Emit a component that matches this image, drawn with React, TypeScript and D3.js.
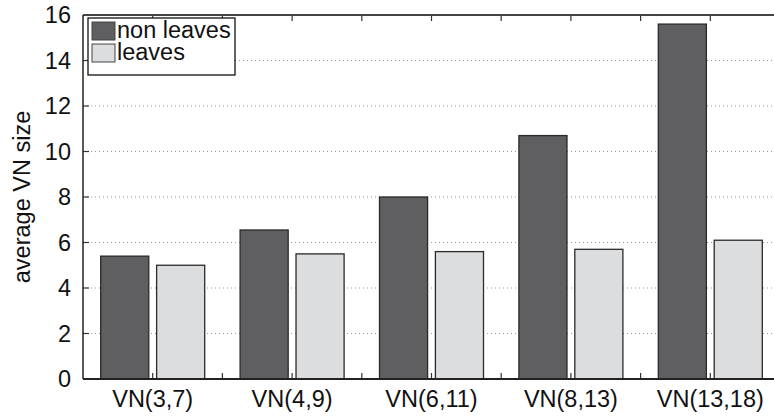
import React from "react";
import * as d3 from "d3";

const categories = ["VN(3,7)", "VN(4,9)", "VN(6,11)", "VN(8,13)", "VN(13,18)"];
const seriesNames = ["non leaves", "leaves"];
const nonLeaves = [5.4, 6.55, 8.0, 10.7, 15.6];
const leaves = [5.0, 5.5, 5.6, 5.7, 6.1];
const yTicks = [0, 2, 4, 6, 8, 10, 12, 14, 16];
const seriesColors = ["#5f5f61", "#dcdddf"];

const W = 774;
const H = 417;
const left = 83;
const top = 15;
const bottom = 379;
const groupStep = 139.4;
const FONT = "'Liberation Sans', Arial, Helvetica, sans-serif";
const FS = 23.5;

export default function App() {
  const x = d3
    .scaleBand<string>()
    .domain(categories)
    .range([left, left + groupStep * categories.length])
    .padding(0);
  const sub = d3
    .scaleBand<string>()
    .domain(seriesNames)
    .range([17.7, 121.7])
    .paddingInner(0.14)
    .paddingOuter(0);
  const y = d3.scaleLinear().domain([0, 16]).range([bottom, top]);

  const values = [nonLeaves, leaves];
  const tickXs: number[] = [];
  for (let i = 0; i < categories.length * 2; i++) {
    tickXs.push(left + (groupStep / 2) * (i + 1));
  }

  return (
    <svg
      width={W}
      height={H}
      style={{ position: "absolute", left: 0, top: 0, background: "#fff" }}
      fontFamily={FONT}
    >
      {/* horizontal dotted grid */}
      {yTicks
        .filter((t) => t > 0 && t < 16)
        .map((t) => (
          <line
            key={"g" + t}
            x1={left}
            x2={W}
            y1={y(t)}
            y2={y(t)}
            stroke="#999"
            strokeWidth={1}
            strokeDasharray="1,3"
          />
        ))}

      {/* bars */}
      {categories.map((c, i) =>
        seriesNames.map((s, j) => {
          const x0 = (x(c) as number) + (sub(s) as number);
          const v = values[j][i];
          return (
            <rect
              key={c + s}
              x={x0}
              y={y(v)}
              width={sub.bandwidth()}
              height={y(0) - y(v)}
              fill={seriesColors[j]}
              stroke="#2a2a2a"
              strokeWidth={1.3}
            />
          );
        })
      )}

      {/* x ticks, bottom and top */}
      {tickXs.map((tx, i) => (
        <g key={"xt" + i}>
          <line x1={tx} x2={tx} y1={bottom} y2={bottom - 6} stroke="#333" strokeWidth={1.2} />
          <line x1={tx} x2={tx} y1={top} y2={top + 6} stroke="#333" strokeWidth={1.2} />
        </g>
      ))}

      {/* y ticks and labels */}
      {yTicks.map((t) => (
        <g key={"yt" + t}>
          <line x1={left} x2={left + 6} y1={y(t)} y2={y(t)} stroke="#333" strokeWidth={1.2} />
          <text
            x={71}
            y={y(t)}
            dy="0.36em"
            textAnchor="end"
            fontSize={FS}
            fill="#111"
          >
            {t}
          </text>
        </g>
      ))}

      {/* frame */}
      <line x1={left} x2={W} y1={top} y2={top} stroke="#444" strokeWidth={2} />
      <line x1={left} x2={W} y1={bottom} y2={bottom} stroke="#222" strokeWidth={2} />
      <line x1={left} x2={left} y1={top} y2={bottom} stroke="#222" strokeWidth={1.5} />

      {/* category labels */}
      {categories.map((c) => (
        <text
          key={"xl" + c}
          x={(x(c) as number) + x.bandwidth() / 2}
          y={407}
          textAnchor="middle"
          fontSize={FS}
          fill="#111"
        >
          {c}
        </text>
      ))}

      {/* y axis title */}
      <text
        transform={`translate(30,197) rotate(-90)`}
        textAnchor="middle"
        fontSize={FS}
        fill="#111"
      >
        average VN size
      </text>

      {/* legend */}
      <g>
        <rect x={88} y={18} width={147} height={57} fill="#fff" stroke="#111" strokeWidth={1.3} />
        {seriesNames.map((s, j) => (
          <g key={"lg" + s}>
            <rect
              x={92}
              y={22 + j * 22}
              width={23}
              height={18}
              fill={seriesColors[j]}
              stroke="#444"
              strokeWidth={1}
            />
            <text x={117} y={38 + j * 22} fontSize={FS} fill="#111">
              {s}
            </text>
          </g>
        ))}
      </g>
    </svg>
  );
}
